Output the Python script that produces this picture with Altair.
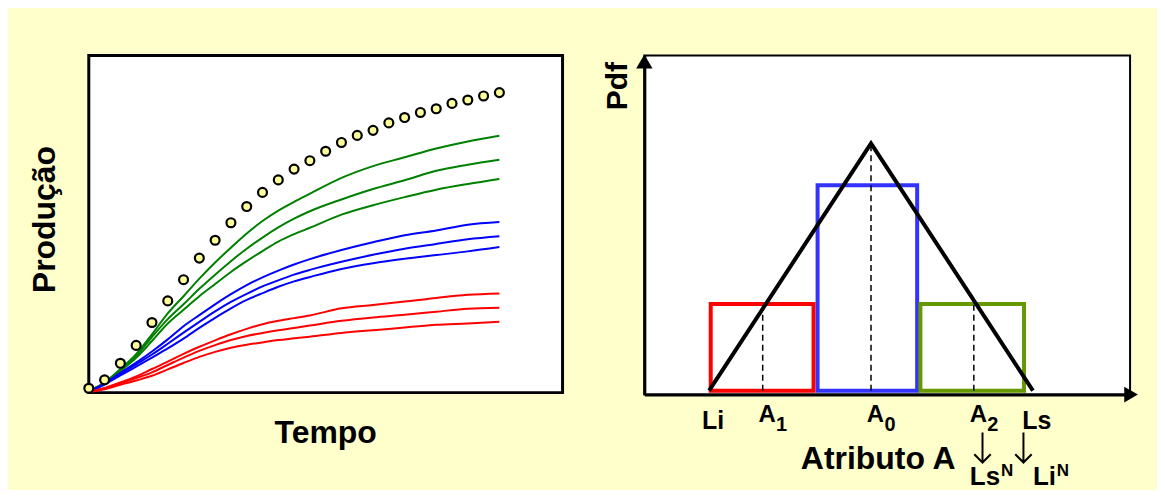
import altair as alt
import pandas as pd

FONT = "Liberation Sans"

# ---------------- Left panel: production curves ----------------
TEMPO = [0, 1, 2, 3, 4, 5, 6, 7, 8, 9, 10, 11, 12, 13, 14, 16, 18, 20, 22, 24, 26]
VERDE_1 = [0.5, 3.0, 7.0, 11.4, 17.3, 23.5, 28.6, 33.8, 38.6, 43.0, 47.2, 50.9, 54.0, 56.6, 59.0, 63.7, 67.2, 69.8, 72.4, 74.5, 76.2]
VERDE_2 = [0.5, 2.9, 6.7, 10.9, 16.5, 21.8, 26.2, 30.8, 35.0, 39.0, 42.7, 46.0, 49.0, 51.6, 53.8, 57.3, 60.4, 63.0, 65.8, 67.6, 69.1]
VERDE_3 = [0.5, 2.8, 6.4, 10.3, 15.3, 20.5, 24.6, 28.6, 32.2, 35.8, 39.0, 42.0, 44.8, 47.0, 48.9, 52.8, 55.6, 58.0, 60.2, 61.9, 63.4]
AZUL_1 = [0.3, 2.7, 5.9, 8.9, 12.2, 15.8, 19.7, 23.0, 26.2, 29.2, 31.9, 34.2, 36.2, 38.0, 39.6, 42.3, 44.6, 46.7, 48.1, 49.8, 50.6]
AZUL_2 = [0.3, 2.6, 5.5, 8.4, 11.3, 14.5, 17.8, 21.0, 24.1, 26.9, 29.3, 31.5, 33.3, 35.0, 36.4, 38.8, 40.9, 42.7, 44.1, 45.5, 46.4]
AZUL_3 = [0.3, 2.4, 5.1, 7.7, 10.4, 13.1, 16.0, 19.2, 22.2, 25.0, 27.5, 29.5, 31.4, 33.0, 34.3, 36.7, 38.4, 39.7, 40.8, 41.9, 43.2]
VERMELHO_1 = [0.2, 1.4, 3.0, 4.8, 7.0, 9.2, 11.5, 13.6, 15.5, 17.3, 18.9, 20.3, 21.3, 22.1, 22.9, 25.0, 26.0, 27.0, 28.1, 29.0, 29.4]
VERMELHO_2 = [0.2, 1.2, 2.7, 4.3, 6.0, 8.2, 10.4, 12.4, 14.1, 15.6, 16.8, 17.7, 18.5, 19.2, 19.9, 21.3, 22.3, 23.1, 24.0, 24.9, 25.2]
VERMELHO_3 = [0.2, 1.0, 2.3, 3.6, 5.0, 6.9, 8.8, 10.6, 12.1, 13.3, 14.2, 14.9, 15.6, 16.1, 16.6, 17.7, 18.5, 19.3, 20.1, 20.5, 21.0]

TEMPO_OBS = [0, 1, 2, 3, 4, 5, 6, 7, 8, 9, 10, 11, 12, 13, 14, 15, 16, 17, 18, 19, 20, 21, 22, 23, 24, 25, 26]
PRODUCAO_OBS = [1.3, 3.8, 8.7, 14.0, 20.8, 27.2, 33.5, 39.9, 45.2, 50.4, 55.2, 59.4, 63.1, 66.3, 68.8,
                71.6, 74.2, 76.3, 77.8, 80.0, 81.6, 83.1, 84.2, 85.8, 86.8, 88.0, 89.0]

SERIES = [
    ("verde 1", "verde", VERDE_1), ("verde 2", "verde", VERDE_2), ("verde 3", "verde", VERDE_3),
    ("azul 1", "azul", AZUL_1), ("azul 2", "azul", AZUL_2), ("azul 3", "azul", AZUL_3),
    ("vermelho 1", "vermelho", VERMELHO_1), ("vermelho 2", "vermelho", VERMELHO_2), ("vermelho 3", "vermelho", VERMELHO_3),
]
GRUPOS = ["verde", "azul", "vermelho"]
CORES_GRUPOS = ["#008000", "#0000FF", "#FF0000"]

rows = []
for nome, grupo, vals in SERIES:
    for t, v in zip(TEMPO, vals):
        rows.append({"serie": nome, "grupo": grupo, "tempo": t, "producao": v})
lines_df = pd.DataFrame(rows)
obs_df = pd.DataFrame({"tempo": TEMPO_OBS, "producao": PRODUCAO_OBS})

x_left = alt.X("tempo:Q", scale=alt.Scale(domain=[0, 30], nice=False, zero=False),
               axis=alt.Axis(title="Tempo", domain=False, ticks=False, labels=False, grid=False,
                             titleFont=FONT, titleFontSize=32, titleFontWeight="bold", titleColor="black",
                             titleX=237, titleY=50, titleBaseline="alphabetic", titleAlign="center"))
y_left = alt.Y("producao:Q", scale=alt.Scale(domain=[0, 100], nice=False, zero=False),
               axis=alt.Axis(title="Produção", domain=False, ticks=False, labels=False, grid=False,
                             titleFont=FONT, titleFontSize=32, titleFontWeight="bold", titleColor="black",
                             titleAngle=270, titleX=-34, titleY=164, titleBaseline="alphabetic",
                             titleAlign="center"))

curvas = alt.Chart(lines_df).mark_line(strokeWidth=2, interpolate="monotone").encode(
    x=x_left, y=y_left,
    color=alt.Color("grupo:N", scale=alt.Scale(domain=GRUPOS, range=CORES_GRUPOS), legend=None),
    detail="serie:N",
)
pontos = alt.Chart(obs_df).mark_circle(size=80, fill="#FFFF99", stroke="black", strokeWidth=2.2,
                                       opacity=1, fillOpacity=1).encode(x=x_left, y=y_left)

left = alt.layer(curvas, pontos).properties(
    width=475, height=338,
    view=alt.ViewBackground(fill="white", stroke="black", strokeWidth=3),
)

# ---------------- Right panel: triangular pdf and three classes ----------------
X_DOMAIN = [6, 36]
Y_DOMAIN = [-0.0016, 0.1355]
LI, A0, LS = 10, 20, 30
A1, A2 = 13.31, 26.35
TRI_ATRIB = [LI, A0, LS]
TRI_PDF = [0, 0.1, 0]
CLASSES = ["A1", "A0", "A2"]
CLASSE_INI = [10.1, 16.7, 23.05]
CLASSE_FIM = [16.45, 22.85, 29.45]
CLASSE_ALT = [0.035, 0.083, 0.035]
CORES_CLASSES = ["#FF0000", "#3333FF", "#669900"]
TRACO_POS = [A1, A0, A2]
TRACO_TOPO = [0.035, 0.1, 0.035]

XR = alt.Scale(domain=X_DOMAIN, nice=False, zero=False)
YR = alt.Scale(domain=Y_DOMAIN, nice=False, zero=False)
x_axis_r = alt.Axis(title="Atributo A", domain=True, domainColor="black", domainWidth=3, ticks=False,
                    labels=False, grid=False, titleFont=FONT, titleFontSize=32, titleFontWeight="bold",
                    titleColor="black", titleX=234, titleY=74, titleBaseline="alphabetic", titleAlign="center")
y_axis_r = alt.Axis(title="Pdf", domain=True, domainColor="black", domainWidth=3, ticks=False,
                    labels=False, grid=False, titleFont=FONT, titleFontSize=30, titleFontWeight="bold",
                    titleColor="black", titleAngle=270, titleX=-18, titleY=6, titleAlign="right",
                    titleBaseline="alphabetic")


def xr(field):
    return alt.X(field, scale=XR, axis=x_axis_r)


def yr(field):
    return alt.Y(field, scale=YR, axis=y_axis_r)


classes_df = pd.DataFrame({"classe": CLASSES, "ini": CLASSE_INI, "fim": CLASSE_FIM,
                           "base": [0, 0, 0], "alt": CLASSE_ALT})
retangulos = alt.Chart(classes_df).mark_rect(filled=False, strokeWidth=4).encode(
    x=xr("ini:Q"), x2="fim:Q", y=yr("base:Q"), y2="alt:Q",
    stroke=alt.Stroke("classe:N", scale=alt.Scale(domain=CLASSES, range=CORES_CLASSES), legend=None),
)

tri_df = pd.DataFrame({"atributo": TRI_ATRIB, "pdf": TRI_PDF})
triangulo = alt.Chart(tri_df).mark_line(color="black", strokeWidth=4, strokeJoin="miter").encode(
    x=xr("atributo:Q"), y=yr("pdf:Q"))

tracos_df = pd.DataFrame({"pos": TRACO_POS, "base": [0, 0, 0], "topo": TRACO_TOPO})
tracos = alt.Chart(tracos_df).mark_rule(color="black", strokeWidth=1.5, strokeDash=[6, 4]).encode(
    x=xr("pos:Q"), y=yr("base:Q"), y2="topo:Q")

seta_y = alt.Chart(pd.DataFrame({"a": [X_DOMAIN[0]], "p": [Y_DOMAIN[1]]})).mark_point(
    shape="triangle-up", filled=True, color="black", size=270, opacity=1, yOffset=6).encode(
    x=xr("a:Q"), y=yr("p:Q"))
seta_x = alt.Chart(pd.DataFrame({"a": [X_DOMAIN[1]], "p": [Y_DOMAIN[0]]})).mark_point(
    shape="triangle-right", filled=True, color="black", size=250, opacity=1, xOffset=1).encode(
    x=xr("a:Q"), y=yr("p:Q"))

# thin down-arrows with an open head (A2 -> Ls^N, Ls -> Li^N)
SETA_BAIXO = "M0,-1L0,1M-0.55,0.45L0,1L0.55,0.45"


def seta_baixo(pos, dx):
    df = pd.DataFrame({"pos": [pos], "zero": [0]})
    return alt.Chart(df).mark_point(shape=SETA_BAIXO, filled=False, color="black", strokeWidth=2,
                                    size=900, opacity=1, xOffset=dx, yOffset=57).encode(
        x=xr("pos:Q"), y=yr("zero:Q"))


def rotulo(textos, posicoes, size, dx, dy, weight="bold"):
    df = pd.DataFrame({"texto": textos, "pos": posicoes, "zero": [0] * len(textos)})
    return alt.Chart(df).mark_text(font=FONT, fontSize=size, fontWeight=weight, color="black",
                                   align="center", baseline="alphabetic", dx=dx, dy=dy).encode(
        x=xr("pos:Q"), y=yr("zero:Q"), text="texto:N")


rot_limites = rotulo(["Li", "Ls"], [LI, LS], 25, 4, 38)
rot_a = rotulo(["A", "A", "A"], [A1, A0, A2], 24, 4.5, 31)
rot_indices = rotulo(["1", "0", "2"], [A1, A0, A2], 20, 19, 40)
seta_a2 = seta_baixo(A2, 8.7)
seta_ls = seta_baixo(LS, -9.5)
novo_ls = rotulo(["Ls"], [A2], 26, 11.2, 95)
novo_li = rotulo(["Li"], [LS], 26, 11.5, 95)
sup_ls = rotulo(["N"], [A2], 17, 33.3, 86)
sup_li = rotulo(["N"], [LS], 17, 30, 86)

right = alt.layer(retangulos, triangulo, tracos, seta_y, seta_x, rot_limites, rot_a, rot_indices,
                  seta_a2, seta_ls, novo_ls, novo_li, sup_ls, sup_li).properties(
    width=487, height=340,
    view=alt.ViewBackground(fill="white", stroke="black", strokeWidth=2),
)

chart = alt.hconcat(left, right, spacing=37).properties(
    padding={"left": 19, "top": 44, "right": 18, "bottom": -3},
    background="#FFFFCC",
)

chart.save("out.html", embed_options={"renderer": "svg", "actions": False})
